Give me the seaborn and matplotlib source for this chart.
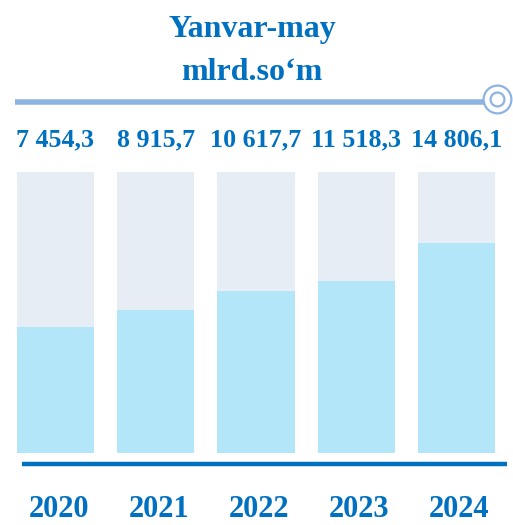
import numpy as np
import pandas as pd
import matplotlib
matplotlib.use('Agg')
import matplotlib.pyplot as plt
import seaborn as sns

years = ['2020', '2021', '2022', '2023', '2024']
values = [7454.3, 8915.7, 10617.7, 11518.3, 14806.1]
value_labels = ['7 454,3', '8 915,7', '10 617,7', '11 518,3', '14 806,1']
title_lines = ['Yanvar-may', 'mlrd.so‘m']

# the original bars do not start at zero, so keep a shifted baseline
base = -3570
gray_top = 21000

sns.set_theme(style='white')
plt.rcParams['font.family'] = ['Liberation Serif', 'DejaVu Serif']

df = pd.DataFrame({'year': years, 'value': values})
df['height'] = df['value'] - base
df['bg'] = gray_top - base

fig = plt.figure(figsize=(5.13, 5.25), dpi=100)
ax = fig.add_axes([0, 0, 1, 1])

sns.barplot(data=df, x='year', y='bg', color='#e7edf5', saturation=1,
            width=0.77, bottom=base, errorbar=None, linewidth=0, ax=ax)
sns.barplot(data=df, x='year', y='height', color='#b3e6f8', saturation=1,
            width=0.77, bottom=base, errorbar=None, linewidth=0, ax=ax)

ax.set_xlim(-0.5536, 4.5636)
ax.set_ylim(-9870, 36067)
ax.axis('off')

blue = '#0070c0'
tr = ax.get_xaxis_transform()

for i, lab in enumerate(value_labels):
    ax.text(i, 0.733, lab, transform=tr, ha='center', va='center',
            fontsize=18.7, fontweight='bold', color=blue)
for i, yr in enumerate(years):
    ax.text(i + 0.03, 0.03, yr, transform=tr, ha='center', va='center',
            fontsize=22, fontweight='bold', color=blue)

ax.text(0.491, 0.943, title_lines[0], transform=ax.transAxes, ha='center',
        va='center', fontsize=23, fontweight='bold', color=blue)
ax.text(0.491, 0.862, title_lines[1], transform=ax.transAxes, ha='center',
        va='center', fontsize=23, fontweight='bold', color=blue)

# top rule with ring marker
ax.plot([0.03, 0.955], [0.806, 0.806], transform=ax.transAxes,
        color='#8db3e2', lw=4, solid_capstyle='butt')
ax.plot([0.969], [0.811], transform=ax.transAxes, marker='o', ms=20,
        mfc='white', mec='#8db3e2', mew=1.6)
ax.plot([0.969], [0.811], transform=ax.transAxes, marker='o', ms=10,
        mfc='white', mec='#8db3e2', mew=1.6)

# bottom rule
ax.plot([0.043, 0.988], [0.116, 0.116], transform=ax.transAxes,
        color=blue, lw=3.2, solid_capstyle='butt')

fig.savefig('out.png', dpi=100, facecolor='white')
